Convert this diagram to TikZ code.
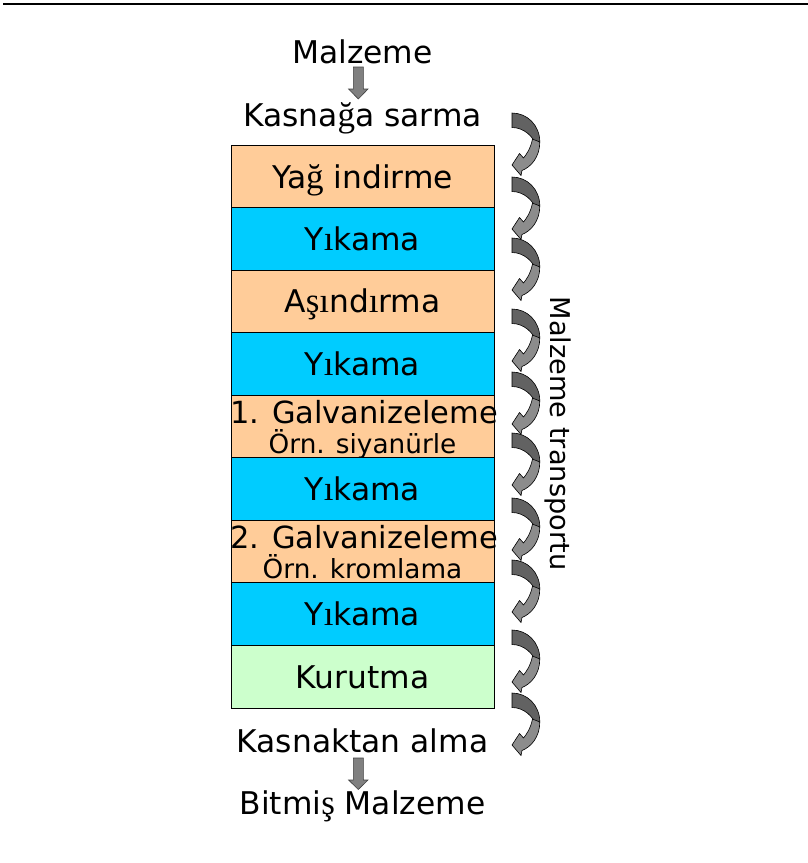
\documentclass[tikz,border=0pt]{standalone}
\usepackage{fontspec}
\setmainfont{DejaVu Sans}
\newfontfamily\trs[Scale=1.12]{Liberation Serif}
\definecolor{peach}{HTML}{FFCC99}
\definecolor{cyanbox}{HTML}{00CCFF}
\definecolor{greenbox}{HTML}{CCFFCC}
\definecolor{arrdark}{HTML}{626262}
\definecolor{arrlight}{HTML}{8C8C8C}
\definecolor{blockgray}{HTML}{808080}
\tikzset{
  carr/.pic={
    \filldraw[fill=arrdark, draw=black, line width=0.6pt]
      (0,0) .. controls (15,0) and (27.8,12) .. (27.8,29) -- (24,33)
      .. controls (22,24) and (12,14.5) .. (0,14.5) -- cycle;
    \filldraw[fill=arrlight, draw=black, line width=0.6pt]
      (27.8,29) .. controls (27.8,44) and (19,54) .. (10,57.5) -- (9,62.5) -- (0,52)
      -- (7.5,40.5) -- (11.5,45) .. controls (14,42) and (18.5,36) .. (20.5,26) -- cycle;
  },
  blockdown/.style={fill=blockgray, draw=black!75, line width=0.6pt},
  big/.style={font=\fontsize{31.3}{36}\selectfont, anchor=base, inner sep=0pt},
  galv/.style={font=\fontsize{30.5}{36}\selectfont, anchor=base, inner sep=0pt},
  small/.style={font=\fontsize{26.3}{30}\selectfont, anchor=base, inner sep=0pt},
  stage/.style={draw=black, line width=0.8pt, minimum width=263pt, minimum height=62.55pt, inner sep=0pt},
}
\begin{document}
\begin{tikzpicture}[x=1pt,y=-1pt]
\fill[white] (0,0) rectangle (808,863);
\useasboundingbox (0,0) rectangle (808,863);
\draw[line width=1.2pt] (3,4) -- (808,4);

% top labels
\node[big] (in) at (362.5,63) {Malzeme};
\filldraw[blockdown] (353.3,67) -- (363.3,67) -- (363.3,89) -- (368,89) -- (358.3,99) -- (348.6,89) -- (353.3,89) -- cycle;
\node[big] (wind) at (362.5,126) {Kasna{\trs ğ}a sarma};

% stages
\node[stage, fill=peach] (s1) at (362.5,176.3) {};
\node[big] (t1) at (362.5,188) {Ya{\trs ğ} indirme};
\node[stage, fill=cyanbox] (s2) at (362.5,238.8) {};
\node[big] (t2) at (362.5,250) {Y{\trs ı}kama};
\node[stage, fill=peach] (s3) at (362.5,301.4) {};
\node[big] (t3) at (362.5,312.5) {A{\trs şı}nd{\trs ı}rma};
\node[stage, fill=cyanbox] (s4) at (362.5,364) {};
\node[big] (t4) at (362.5,375) {Y{\trs ı}kama};
\node[stage, fill=peach] (s5) at (362.5,426.5) {};
\node[galv] (t5a) at (364,423.5) {1. Galvanizeleme};
\node[small] (t5b) at (362.5,453.5) {Örn. siyanürle};
\node[stage, fill=cyanbox] (s6) at (362.5,489) {};
\node[big] (t6) at (362.5,500) {Y{\trs ı}kama};
\node[stage, fill=peach] (s7) at (362.5,551.6) {};
\node[galv] (t7a) at (364,548.6) {2. Galvanizeleme};
\node[small] (t7b) at (362.5,578.6) {Örn. kromlama};
\node[stage, fill=cyanbox] (s8) at (362.5,614.1) {};
\node[big] (t8) at (362.5,625) {Y{\trs ı}kama};
\node[stage, fill=greenbox] (s9) at (362.5,676.7) {};
\node[big] (t9) at (362.5,688) {Kurutma};

% bottom labels
\node[big] (unwind) at (362.5,752) {Kasnaktan alma};
\filldraw[blockdown] (353.3,758) -- (363.3,758) -- (363.3,780) -- (368,780) -- (358.3,789.5) -- (348.6,780) -- (353.3,780) -- cycle;
\node[big] (out) at (362.5,814) {Bitmi{\trs ş} Malzeme};

% transport arrows
\foreach \yy in {113,177,238,309,372,433,498,560,630,693}
  \pic at (512,\yy) {carr};

\node[font=\fontsize{27.2}{32}\selectfont, anchor=base, inner sep=0pt, rotate=-90] (tr) at (550,433.5) {Malzeme transportu};
\end{tikzpicture}
\end{document}
